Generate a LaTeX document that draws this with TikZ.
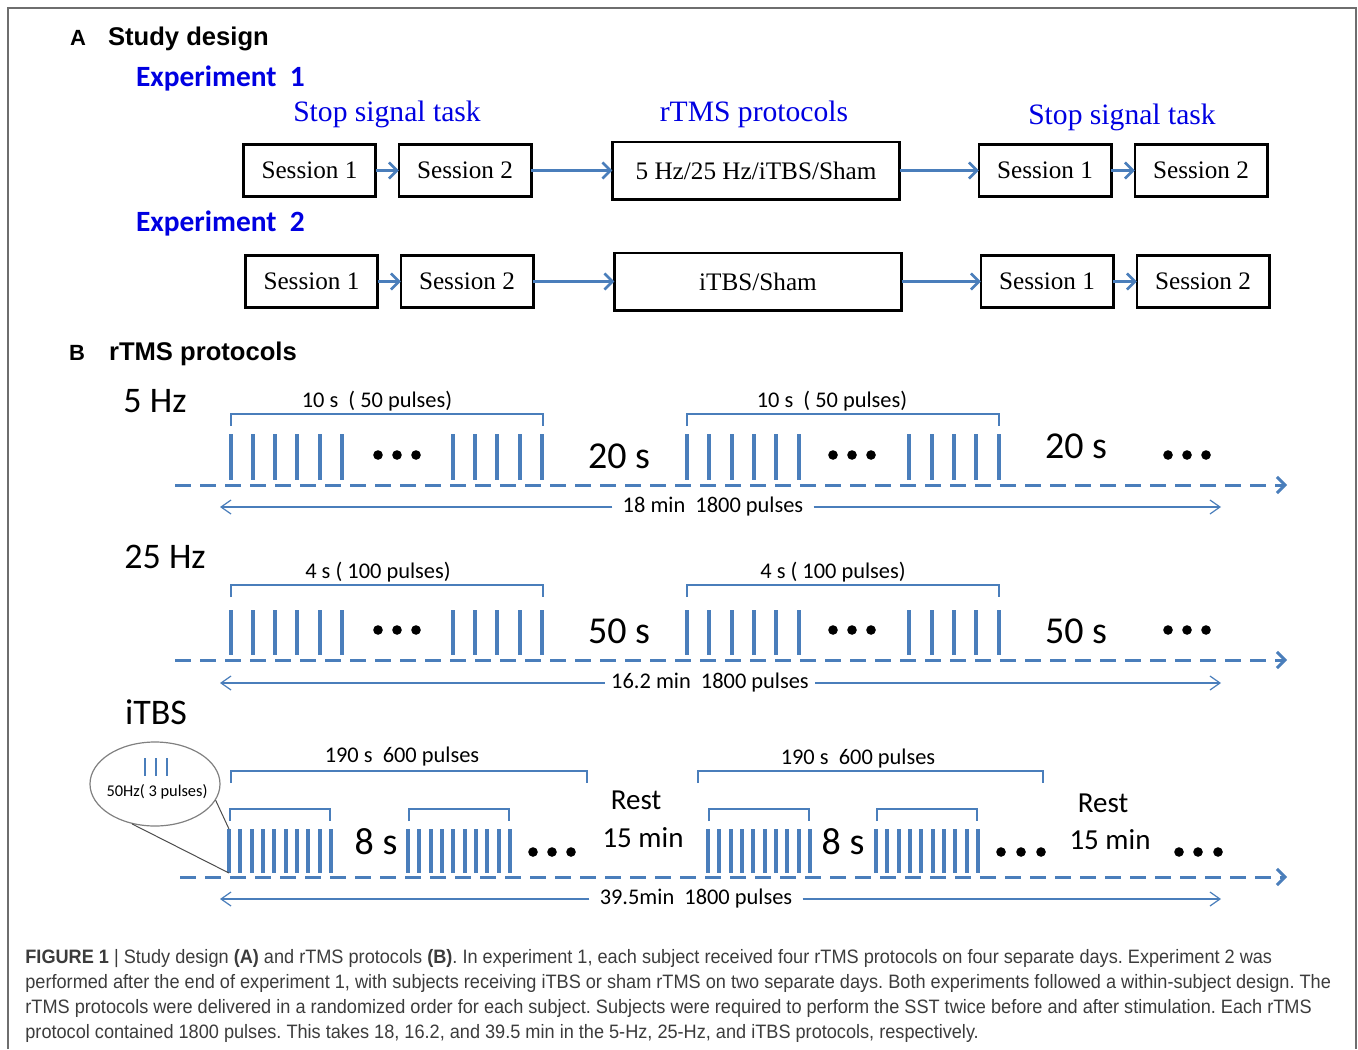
\documentclass[tikz,border=0pt]{standalone}
\usepackage{fontspec}
\setmainfont{Liberation Serif}
\newfontfamily\calibri{Carlito}
\newfontfamily\arial{Liberation Sans}
\newfontfamily\capfont[FakeStretch=0.935]{Liberation Sans}
\usetikzlibrary{positioning, arrows.meta, shapes.geometric}
\definecolor{pulseblue}{RGB}{74,126,187}
\definecolor{titleblue}{RGB}{0,0,225}
\definecolor{capgray}{RGB}{60,60,60}
\definecolor{framegray}{RGB}{110,110,110}

\begin{document}
\frenchspacing
\begin{tikzpicture}[x=0.5pt, y=-0.5pt,
    session/.style={draw, line width=1.3pt, outer sep=0pt, minimum width=66.2pt, minimum height=26.2pt, inner sep=0pt, font=\fontsize{12.6}{14}\selectfont},
    protocol/.style={session, minimum width=143.7pt, minimum height=28.7pt},
    flow/.style={-{Straight Barb[length=4pt, width=8pt]}, pulseblue, line width=1.3pt},
    heading/.style={anchor=west, font=\arial\bfseries\fontsize{12.8}{15}\selectfont},
    panel/.style={font=\arial\bfseries\fontsize{11}{13}\selectfont},
    experiment/.style={anchor=west, text=titleblue, font=\calibri\bfseries\fontsize{14.7}{17}\selectfont},
    phasetext/.style={text=titleblue, font=\fontsize{14.8}{17}\selectfont},
    ratetext/.style={font=\calibri\fontsize{18}{20}\selectfont},
    gaptext/.style={font=\calibri\fontsize{19}{21}\selectfont},
    resttext/.style={font=\calibri\fontsize{14.5}{16}\selectfont},
    traintext/.style={font=\calibri\fontsize{11.2}{13}\selectfont},
    pulse/.style={pulseblue, line width=2.3pt},
    burst/.style={pulseblue, line width=2pt},
    brace/.style={pulseblue, line width=0.6pt},
    timeline/.style={pulseblue, line width=1.5pt, dash pattern=on 8pt off 4.5pt, -{Straight Barb[length=4pt, width=8pt]}},
    span/.style={pulseblue, line width=0.6pt, -{Straight Barb[length=5pt, width=7pt]}},
    total/.style={traintext, inner sep=5pt, fill=white},
    callout/.style={gray!60!black, line width=0.5pt}
]
    \useasboundingbox (0,0) rectangle (1358,1049);
    \draw[framegray, line width=1pt] (8,1049) |- (1356,8) -- (1356,1049);

    \node[panel] (A) at (78,38) {A};
    \node[heading] (study) at (101,39) {Study design};
    \node[experiment] (exp1) at (129,78) {Experiment\ \ 1};
    \node[experiment] (exp2) at (129,223) {Experiment\ \ 2};

    \node[phasetext] (sst pre) at (387,114) {Stop signal task};
    \node[phasetext] (rtms) at (754,114) {rTMS protocols};
    \node[phasetext] (sst post) at (1122,117) {Stop signal task};

    \node[session] (s1 e1) at (309.5,170.5) {Session 1};
    \node[session, right=11.55pt of s1 e1] (s2 e1) {Session 2};
    \node[protocol, right=40.55pt of s2 e1] (p e1) {5 Hz/25 Hz/iTBS/Sham};
    \node[session, right=39.55pt of p e1] (s3 e1) {Session 1};
    \node[session, right=11.8pt of s3 e1] (s4 e1) {Session 2};

    \node[session, below=29.3pt of s1 e1, xshift=1pt] (s1 e2) {Session 1};
    \node[session, right=11.55pt of s1 e2] (s2 e2) {Session 2};
    \node[protocol, right=40.55pt of s2 e2] (p e2) {iTBS/Sham};
    \node[session, right=39.55pt of p e2] (s3 e2) {Session 1};
    \node[session, right=11.8pt of s3 e2] (s4 e2) {Session 2};

    \draw[flow] (s1 e1) -- (s2 e1);
    \draw[flow] (s2 e1) -- (p e1);
    \draw[flow] (p e1) -- (s3 e1);
    \draw[flow] (s3 e1) -- (s4 e1);
    \draw[flow] (s1 e2) -- (s2 e2);
    \draw[flow] (s2 e2) -- (p e2);
    \draw[flow] (p e2) -- (s3 e2);
    \draw[flow] (s3 e2) -- (s4 e2);

    \node[panel] (B) at (77,353) {B};
    \node[heading] (protocols) at (102,354) {rTMS protocols};

    % 5 Hz
    \node[ratetext] (hz5) at (155,401) {5 Hz};
    \node[traintext] (train5 a) at (377,401) {10 s\ \ ( 50 pulses)};
    \node[traintext] (train5 b) at (832,401) {10 s\ \ ( 50 pulses)};
    \draw[brace] (231,426) |- (543,414) -- (543,426);
    \draw[brace] (687,426) |- (999,414) -- (999,426);
    \foreach \x in {231,253,275,297,320,342,453,475,497,520,542,687,709,732,754,776,799,909,932,954,976,999}
        \draw[pulse] (\x,434) -- (\x,480);
    \foreach \x in {378,397,416,833,852,871,1168,1187,1206}
        \fill (\x,455) circle (2.4pt);
    \node[gaptext] (gap5 a) at (619,456) {20 s};
    \node[gaptext] (gap5 b) at (1076,446) {20 s};
    \coordinate (axis5 start) at (175,485);
    \coordinate (axis5 end) at (1287,485);
    \draw[timeline] (axis5 start) -- (axis5 end);
    \node[total] (total5) at (713,507) {18 min\ \ 1800 pulses};
    \coordinate (total5 left) at (220,507);
    \coordinate (total5 right) at (1221,507);
    \draw[span] (total5) -- (total5 left);
    \draw[span] (total5) -- (total5 right);

    % 25 Hz
    \node[ratetext] (hz25) at (165,557) {25 Hz};
    \node[traintext] (train25 a) at (378,572) {4 s ( 100 pulses)};
    \node[traintext] (train25 b) at (833,572) {4 s ( 100 pulses)};
    \draw[brace] (231,597) |- (543,585) -- (543,597);
    \draw[brace] (687,597) |- (999,585) -- (999,597);
    \foreach \x in {231,253,275,297,320,342,453,475,497,520,542,687,709,732,754,776,799,909,932,954,976,999}
        \draw[pulse] (\x,610) -- (\x,655);
    \foreach \x in {378,397,416,833,852,871,1168,1187,1206}
        \fill (\x,630) circle (2.4pt);
    \node[gaptext] (gap25 a) at (619,631) {50 s};
    \node[gaptext] (gap25 b) at (1076,631) {50 s};
    \coordinate (axis25 start) at (175,660);
    \coordinate (axis25 end) at (1287,660);
    \draw[timeline] (axis25 start) -- (axis25 end);
    \node[total, inner xsep=3pt] (total25) at (710,683) {16.2 min\ \ 1800 pulses};
    \coordinate (total25 left) at (220,683);
    \coordinate (total25 right) at (1221,683);
    \draw[span] (total25) -- (total25 left);
    \draw[span] (total25) -- (total25 right);

    % iTBS
    \node[ratetext] (itbs) at (156,712) {iTBS};
    \node[traintext] (block a) at (402,757) {190 s\ \ 600 pulses};
    \node[traintext] (block b) at (858,759) {190 s\ \ 600 pulses};
    \draw[brace] (231,783) |- (587,771) -- (587,783);
    \draw[brace] (698,783) |- (1043,771) -- (1043,783);
    \foreach \s in {230,409,709,877} {
        \draw[brace] (\s,821) |- (\s+100,809) -- (\s+100,821);
        \foreach \k in {0,...,9}
            \draw[burst] (\s-1+11.35*\k,829) -- (\s-1+11.35*\k,873);
    }
    \foreach \x in {533,552,571,1001,1021,1041,1179,1198,1218}
        \fill (\x,852) circle (2.4pt);
    \node[gaptext] (burst gap a) at (376,842) {8 s};
    \node[gaptext] (burst gap b) at (843,842) {8 s};
    \node[resttext] (rest a) at (636,800) {Rest};
    \node[resttext] (rest a len) at (643,838) {15 min};
    \node[resttext] (rest b) at (1103,803) {Rest};
    \node[resttext] (rest b len) at (1110,840) {15 min};
    \coordinate (axis3 start) at (180,877);
    \coordinate (axis3 end) at (1287,877);
    \draw[timeline] (axis3 start) -- (axis3 end);
    \node[total] (total3) at (696,899) {39.5min\ \ 1800 pulses};
    \coordinate (total3 left) at (220,899);
    \coordinate (total3 right) at (1221,899);
    \draw[span] (total3) -- (total3 left);
    \draw[span] (total3) -- (total3 right);

    \node[draw=gray, ellipse, line width=0.6pt, minimum width=65pt, minimum height=42pt] (zoom) at (155,784) {};
    \foreach \x in {145,156,167}
        \draw[pulseblue, line width=0.8pt] (\x,758) -- (\x,776);
    \node[font=\calibri\fontsize{8.2}{10}\selectfont] (burst lbl) at (157,792) {50Hz( 3 pulses)};
    \coordinate (burst top) at (229,829);
    \coordinate (burst foot) at (229,873);
    \draw[callout] (zoom.-15) -- (burst top);
    \draw[callout] (zoom.-120) -- (burst foot);

    \node[anchor=north west, align=left, inner sep=0pt, text=capgray, font=\capfont\fontsize{9.7}{12.5}\selectfont] (caption) at (25,949) {\textbf{FIGURE 1} | Study design \textbf{(A)} and rTMS protocols \textbf{(B)}. In experiment 1, each subject received four rTMS protocols on four separate days. Experiment 2 was\\
    performed after the end of experiment 1, with subjects receiving iTBS or sham rTMS on two separate days. Both experiments followed a within-subject design. The\\
    rTMS protocols were delivered in a randomized order for each subject. Subjects were required to perform the SST twice before and after stimulation. Each rTMS\\
    protocol contained 1800 pulses. This takes 18, 16.2, and 39.5 min in the 5-Hz, 25-Hz, and iTBS protocols, respectively.};
\end{tikzpicture}
\end{document}
